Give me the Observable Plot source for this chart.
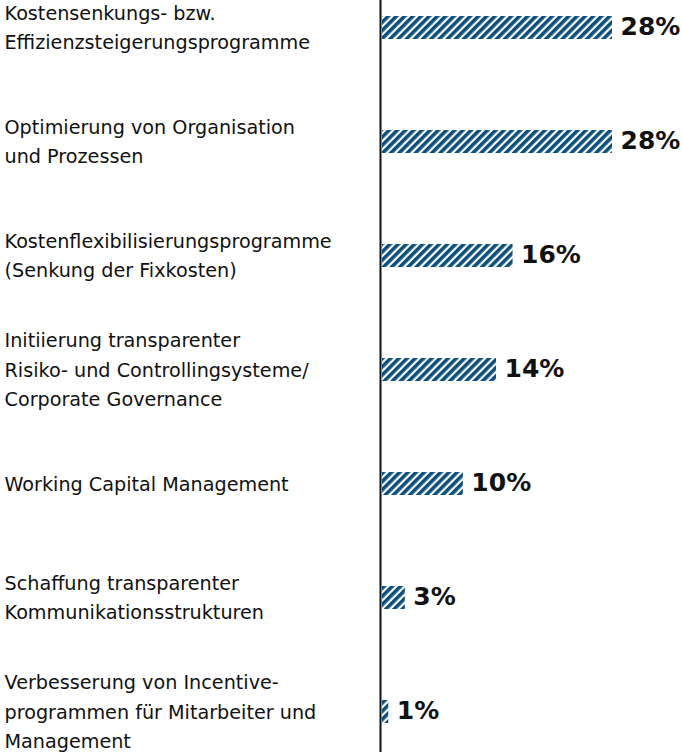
<!DOCTYPE html>
<html><head><meta charset="utf-8">
<script src="https://cdn.jsdelivr.net/npm/d3@7"></script>
<script src="https://cdn.jsdelivr.net/npm/@observablehq/plot@0.6"></script>
<style>body{margin:0;background:#fff;font-family:"DejaVu Sans",sans-serif}</style>
</head><body><div id="chart"></div>
<script>
const categories = [
  "Kostensenkungs- bzw.\nEffizienzsteigerungsprogramme",
  "Optimierung von Organisation\nund Prozessen",
  "Kostenflexibilisierungsprogramme\n(Senkung der Fixkosten)",
  "Initiierung transparenter\nRisiko- und Controllingsysteme/\nCorporate Governance",
  "Working Capital Management",
  "Schaffung transparenter\nKommunikationsstrukturen",
  "Verbesserung von Incentive-\nprogrammen für Mitarbeiter und\nManagement"
];
const values = [28, 28, 16, 14, 10, 3, 1];
const data = categories.map((c, i) => ({label: c, value: values[i]}));

const plot = Plot.plot({
  width: 682, height: 752,
  marginLeft: 380, marginRight: 70, marginTop: 0, marginBottom: 0,
  style: {fontFamily: "'DejaVu Sans', sans-serif", background: "#fff"},
  x: {domain: [0, 28], axis: null},
  y: {domain: categories, range: [4, 735], paddingInner: 0.8, paddingOuter: 0.1, axis: null},
  marks: [
    Plot.barX(data, {y: "label", x: "value", fill: "url(#hatch)", insetLeft: 2}),
    Plot.text(data, {y: "label", text: "label", frameAnchor: "left", dx: -376, dy: -3, textAnchor: "start", fontSize: 19.2, lineHeight: 1.55, fill: "#111"}),
    Plot.text(data, {y: "label", x: "value", text: d => d.value + "%", textAnchor: "start", dx: 8, dy: -1, fontSize: 25, fontWeight: "bold", fill: "#111"}),
    Plot.ruleX([0], {stroke: "#111", strokeWidth: 2})
  ]
});
const ns = "http://www.w3.org/2000/svg";
const defs = document.createElementNS(ns, "defs");
defs.innerHTML = `<pattern id="hatch" patternUnits="userSpaceOnUse" width="5.8" height="5.8" patternTransform="rotate(45)"><rect width="5.8" height="5.8" fill="#fff"/><rect width="3.6" height="5.8" fill="#0b4f7c"/></pattern>`;
plot.insertBefore(defs, plot.firstChild);
document.getElementById("chart").appendChild(plot);
</script></body></html>
